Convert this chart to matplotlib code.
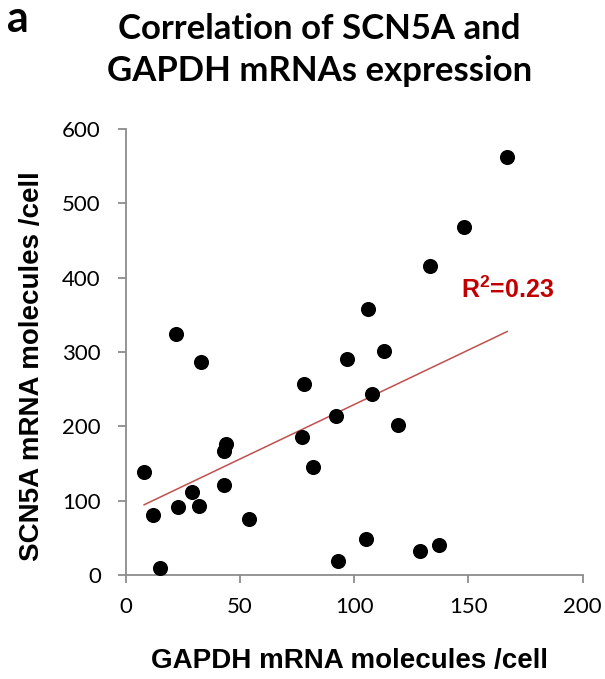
import numpy as np
import matplotlib
matplotlib.use("Agg")
import matplotlib.pyplot as plt

plt.rcParams["mathtext.fontset"] = "custom"
plt.rcParams["mathtext.bf"] = "Liberation Sans:bold"
plt.rcParams["mathtext.rm"] = "Liberation Sans"

# GAPDH vs SCN5A molecules per cell
gapdh = [8, 12, 15, 22, 23, 29, 32, 33, 43, 43, 44, 54, 77, 78, 82, 92,
         93, 97, 105, 106, 108, 113, 119, 129, 133, 137, 148, 167]
scn5a = [139, 81, 9, 324, 92, 111, 93, 286, 121, 167, 176, 75, 185, 257, 145, 214,
         19, 290, 49, 358, 244, 301, 202, 32, 415, 40, 468, 562]

x_ticks = [0, 50, 100, 150, 200]
y_ticks = [0, 100, 200, 300, 400, 500, 600]
r2_label = r"R$^\mathbf{2}$=0.23"

fig = plt.figure(figsize=(6.05, 6.79), dpi=100)
ax = fig.add_axes([0.208, 0.1532, 0.755, 0.657])

x = np.array(gapdh, dtype=float)
y = np.array(scn5a, dtype=float)
slope, icpt = np.polyfit(x, y, 1)
xs = np.array([x.min(), x.max()])
ax.plot(xs, slope * xs + icpt, color="#C0504D", lw=1.1, zorder=2)
ax.scatter(x, y, s=118, color="black", zorder=3, linewidths=0)

ax.set_xlim(0, 200)
ax.set_ylim(0, 600)
ax.set_xticks(x_ticks)
ax.set_yticks(y_ticks)
for s in ["top", "right"]:
    ax.spines[s].set_visible(False)
for s in ["left", "bottom"]:
    ax.spines[s].set_color("#8c8c8c")
    ax.spines[s].set_linewidth(1.3)
ax.tick_params(axis="both", direction="out", length=6, width=1.3, color="#8c8c8c",
               labelsize=16)
ax.tick_params(axis="y", pad=12)
ax.tick_params(axis="x", pad=10)
for lab in ax.get_xticklabels() + ax.get_yticklabels():
    lab.set_family("Lato")

ax.set_xlabel("GAPDH mRNA molecules /cell", fontsize=20, fontweight="bold",
              family="Liberation Sans")
ax.set_ylabel("SCN5A mRNA molecules /cell", fontsize=20, fontweight="bold",
              family="Liberation Sans")
ax.xaxis.set_label_coords(0.49, -0.163)
ax.yaxis.set_label_coords(-0.178, 0.469)

ax.text(167, 383, r2_label, color="#C00000", fontsize=18, fontweight="bold",
        family="Liberation Sans", ha="center", va="center")

fig.text(0.528, 0.958, "Correlation of SCN5A and", fontsize=25, fontweight="bold",
         family="Lato", ha="center", va="center")
fig.text(0.528, 0.895, "GAPDH mRNAs expression", fontsize=25, fontweight="bold",
         family="Lato", ha="center", va="center")
fig.text(0.012, 1 - 32 / 679, "a", fontsize=31, fontweight="bold", family="Lato",
         ha="left", va="baseline")

fig.savefig("out.png", dpi=100)
